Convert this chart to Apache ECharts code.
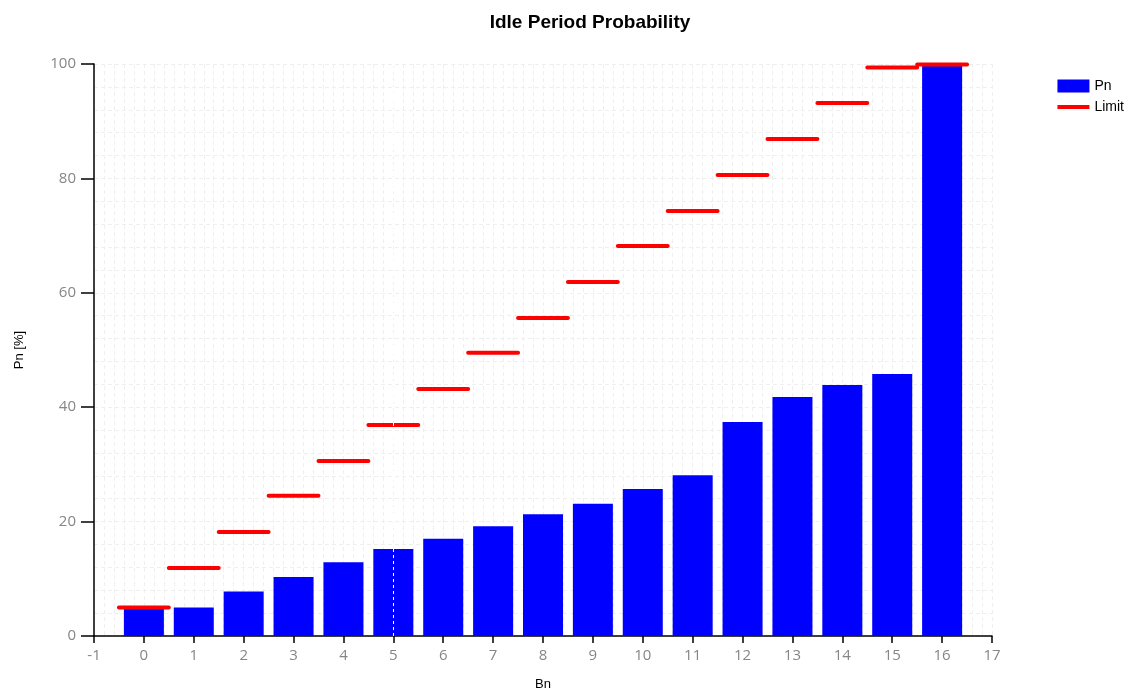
<!DOCTYPE html>
<html>
<head>
<meta charset="utf-8">
<script src="https://cdn.jsdelivr.net/npm/echarts@6/dist/echarts.min.js"></script>
<style>
  html, body { margin: 0; padding: 0; background: #fff; }
  #chart { width: 1140px; height: 697px; }
</style>
</head>
<body>
<div id="chart"></div>
<script>
// Bn categories and values
var bn = [0, 1, 2, 3, 4, 5, 6, 7, 8, 9, 10, 11, 12, 13, 14, 15, 16];
var pn = [4.8, 5.0, 7.8, 10.3, 12.9, 15.2, 17.0, 19.2, 21.3, 23.1, 25.7, 28.1, 37.4, 41.8, 43.9, 45.8, 100];
var limit = [5.0, 11.9, 18.2, 24.5, 30.6, 36.9, 43.2, 49.5, 55.6, 61.9, 68.2, 74.3, 80.6, 86.9, 93.2, 99.4, 99.9];
var xTicks = { min: -1, max: 17, step: 1 };
var yTicks = { min: 0, max: 100, step: 20 };
var cursorBn = 5;

var barData = bn.map(function (b, i) { return [b, pn[i]]; });

// each limit is a flat step from b-0.5 to b+0.5, broken between steps
var limitData = [];
bn.forEach(function (b, i) {
    limitData.push([b - 0.5, limit[i]]);
    limitData.push([b + 0.5, limit[i]]);
    limitData.push([b + 0.5, '-']);
});

var labelStyle = { color: '#868686', fontSize: 15, fontFamily: 'Open Sans' };
var gridLine = { show: true, lineStyle: { color: '#efefef', type: [4, 3], width: 1 } };

var chart = echarts.init(document.getElementById('chart'));
chart.setOption({
    animation: false,
    backgroundColor: '#fff',
    title: {
        text: 'Idle Period Probability',
        left: 585, top: 8, textAlign: 'center',
        textStyle: { fontFamily: 'Liberation Sans', fontWeight: 'bold', fontSize: 19, color: '#000' }
    },
    legend: {
        right: 11, top: 74, orient: 'vertical', itemGap: 7,
        itemWidth: 32, itemHeight: 13,
        textStyle: { fontFamily: 'Liberation Sans', fontSize: 14, color: '#000' },
        data: [
            { name: 'Pn', icon: 'rect' },
            { name: 'Limit', icon: 'path://M0,0H32V4H0Z', itemStyle: { color: '#ff0000' } }
        ]
    },
    grid: { left: 94, right: 148, top: 64, bottom: 61 },
    xAxis: {
        type: 'value', min: xTicks.min, max: xTicks.max, interval: xTicks.step,
        name: 'Bn', nameLocation: 'middle', nameGap: 42,
        nameTextStyle: { fontFamily: 'Liberation Sans', fontSize: 13, color: '#000' },
        axisLine: { show: true, onZero: false, lineStyle: { color: '#000', width: 1.5 } },
        axisTick: { show: true, length: 7, lineStyle: { color: '#000', width: 1.5 } },
        axisLabel: Object.assign({ margin: 12 }, labelStyle),
        splitLine: gridLine,
        minorTick: { show: false, splitNumber: 5 },
        minorSplitLine: gridLine
    },
    yAxis: {
        type: 'value', min: yTicks.min, max: yTicks.max, interval: yTicks.step,
        name: 'Pn [%]', nameLocation: 'middle', nameGap: 68, nameRotate: 90,
        nameTextStyle: { fontFamily: 'Liberation Sans', fontSize: 13, color: '#000' },
        axisLine: { show: true, onZero: false, lineStyle: { color: '#000', width: 1.5 } },
        axisTick: { show: true, length: 13, lineStyle: { color: '#000', width: 1.5 } },
        axisLabel: Object.assign({ margin: 18 }, labelStyle),
        splitLine: gridLine,
        minorTick: { show: false, splitNumber: 5 },
        minorSplitLine: gridLine
    },
    series: [
        {
            name: 'Pn', type: 'bar', barWidth: 40,
            itemStyle: { color: '#0000ff' },
            data: barData
        },
        {
            name: 'Limit', type: 'line', symbol: 'none', connectNulls: false,
            itemStyle: { color: '#ff0000' },
            lineStyle: { color: '#ff0000', width: 4, cap: 'round' },
            data: limitData,
            markLine: {
                silent: true, symbol: 'none', label: { show: false },
                lineStyle: { color: '#ffffff', type: [3, 3], width: 1 },
                data: [{ xAxis: cursorBn }]
            }
        }
    ]
});
</script>
</body>
</html>
